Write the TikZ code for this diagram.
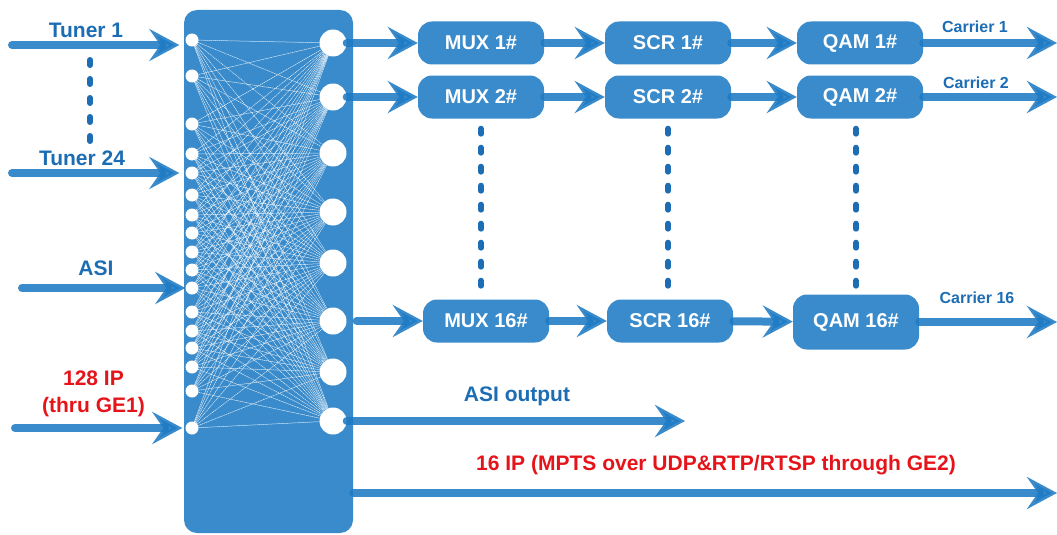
\documentclass[tikz,border=0pt]{standalone}
\usepackage{fontspec}
\setmainfont{Liberation Sans}
\usepackage{xcolor}
\usetikzlibrary{arrows.meta}

\definecolor{boxblue}{HTML}{3A8BCB}
\definecolor{flowblue}{HTML}{1F7BC4}
\definecolor{lblblue}{HTML}{1C6DB4}
\definecolor{dotblue}{HTML}{1C6DB4}
\definecolor{ipred}{HTML}{E5141A}

\begin{document}
\begin{tikzpicture}[x=1pt,y=-1pt, line cap=round, line join=round,
  switchbox/.style={fill=boxblue, rounded corners=13pt, minimum width=169pt,
    minimum height=523pt, inner sep=0pt},
  inport/.style={circle, fill=white, minimum size=13pt, inner sep=0pt},
  outport/.style={circle, fill=white, minimum size=27pt, inner sep=0pt},
  mesh/.style={white, line width=0.5pt, dash pattern=on 1.2pt off 0.8pt, opacity=0.85},
  stage/.style={fill=boxblue, rounded corners=14pt, minimum width=126pt,
    minimum height=43pt, inner sep=0pt, text=white,
    font=\fontsize{20}{24}\selectfont\bfseries},
  flow/.style={draw=flowblue, fill=flowblue, opacity=0.88, line width=8pt,
    -{Stealth[length=30pt,width=32pt,inset=11pt]}},
  dots/.style={draw=dotblue, line width=6pt, dash pattern=on 5pt off 14pt},
  lbl/.style={text=lblblue, font=\fontsize{21}{25}\selectfont\bfseries},
  carlbl/.style={text=lblblue, font=\fontsize{16}{19}\selectfont\bfseries},
  redlbl/.style={text=ipred, align=center, font=\fontsize{21}{27}\selectfont\bfseries}]

\useasboundingbox (0,0) rectangle (1057,535);

% switching matrix
\node[switchbox] (sw) at (268.5,271.5) {};

\foreach \y [count=\i] in {40,76,124,154,173,195,215,233,252,270,288,312,331,348,367,391,428}
  \node[inport] (i\i) at (192,\y) {};
\foreach \y [count=\j] in {43,97,153,212,263,321,372,421}
  \node[outport] (o\j) at (333,\y) {};

\foreach \i in {1,...,17}
  \foreach \j in {1,...,8}
    \draw[mesh] (i\i) -- (o\j);

% inputs
\coordinate (tun1) at (12,45);
\coordinate (tun24) at (12,173);
\coordinate (asiin) at (22,288);
\coordinate (ipin) at (15,428);

\draw[flow, shorten >=6pt] (tun1) -- (tun1 -| i1.west);
\draw[flow, shorten >=6pt] (tun24) -- (i5);
\draw[flow] (asiin) -- (i11);
\draw[flow, shorten >=3pt] (ipin) -- (i17);

\node[lbl] (tun1lbl) at (86,30) {Tuner 1};
\node[lbl] (tun24lbl) at (82,158) {Tuner 24};
\node[lbl] (asilbl) at (96,268) {ASI};
\node[redlbl] (iplbl) at (93.5,393.5) {128 IP\\(thru GE1)};

\coordinate (td1) at (90,60);
\coordinate (td2) at (90,145);
\draw[dots] (td1) -- (td2);

% processing chains
\node[stage] (mux1) at (481,43) {MUX 1\#};
\node[stage] (scr1) at (668,43) {SCR 1\#};
\node[stage] (qam1) at (860,43) {QAM 1\#};

\node[stage] (mux2) at (481,97) {MUX 2\#};
\node[stage] (scr2) at (668,97) {SCR 2\#};
\node[stage] (qam2) at (860,97) {QAM 2\#};

\node[stage] (mux16) at (486,321) {MUX 16\#};
\node[stage] (scr16) at (670,321) {SCR 16\#};
\node[stage, minimum height=55pt] (qam16) at (856,322) {QAM 16\#};

\draw[flow] (o1) -- (mux1);
\draw[flow] (mux1) -- (scr1);
\draw[flow] (scr1) -- (qam1);
\draw[flow] (o2) -- (mux2);
\draw[flow] (mux2) -- (scr2);
\draw[flow] (scr2) -- (qam2);
\draw[flow, shorten <=10pt] (o6) -- (mux16);
\draw[flow] (mux16) -- (scr16);
\draw[flow] (scr16) -- (qam16);

\draw[dots, shorten <=10pt] (mux2.south) -- (mux2.south |- mux16.north);
\draw[dots, shorten <=10pt] (scr2.south) -- (scr2.south |- scr16.north);
\draw[dots, shorten <=10pt] (qam16.north |- qam2.south) -- (qam16.north);

% outputs
\coordinate (car1) at (1057,43);
\coordinate (car2) at (1057,97);
\coordinate (car16) at (1057,322);
\draw[flow] (qam1) -- (car1);
\draw[flow] (qam2) -- (car2);
\draw[flow] (qam16) -- (car16);

\node[carlbl] (car1lbl) at (975,27) {Carrier 1};
\node[carlbl] (car2lbl) at (976,83) {Carrier 2};
\node[carlbl] (car16lbl) at (977,298) {Carrier 16};

\coordinate (asiout) at (685,421);
\draw[flow] (o8) -- (asiout);
\node[lbl] (asioutlbl) at (517,396) {ASI output};

\coordinate (ipout) at (1057,493);
\draw[flow] (ipout -| sw.east) -- (ipout);
\node[redlbl] (ipoutlbl) at (716,465) {16 IP (MPTS over UDP\&RTP/RTSP through GE2)};

\end{tikzpicture}
\end{document}
